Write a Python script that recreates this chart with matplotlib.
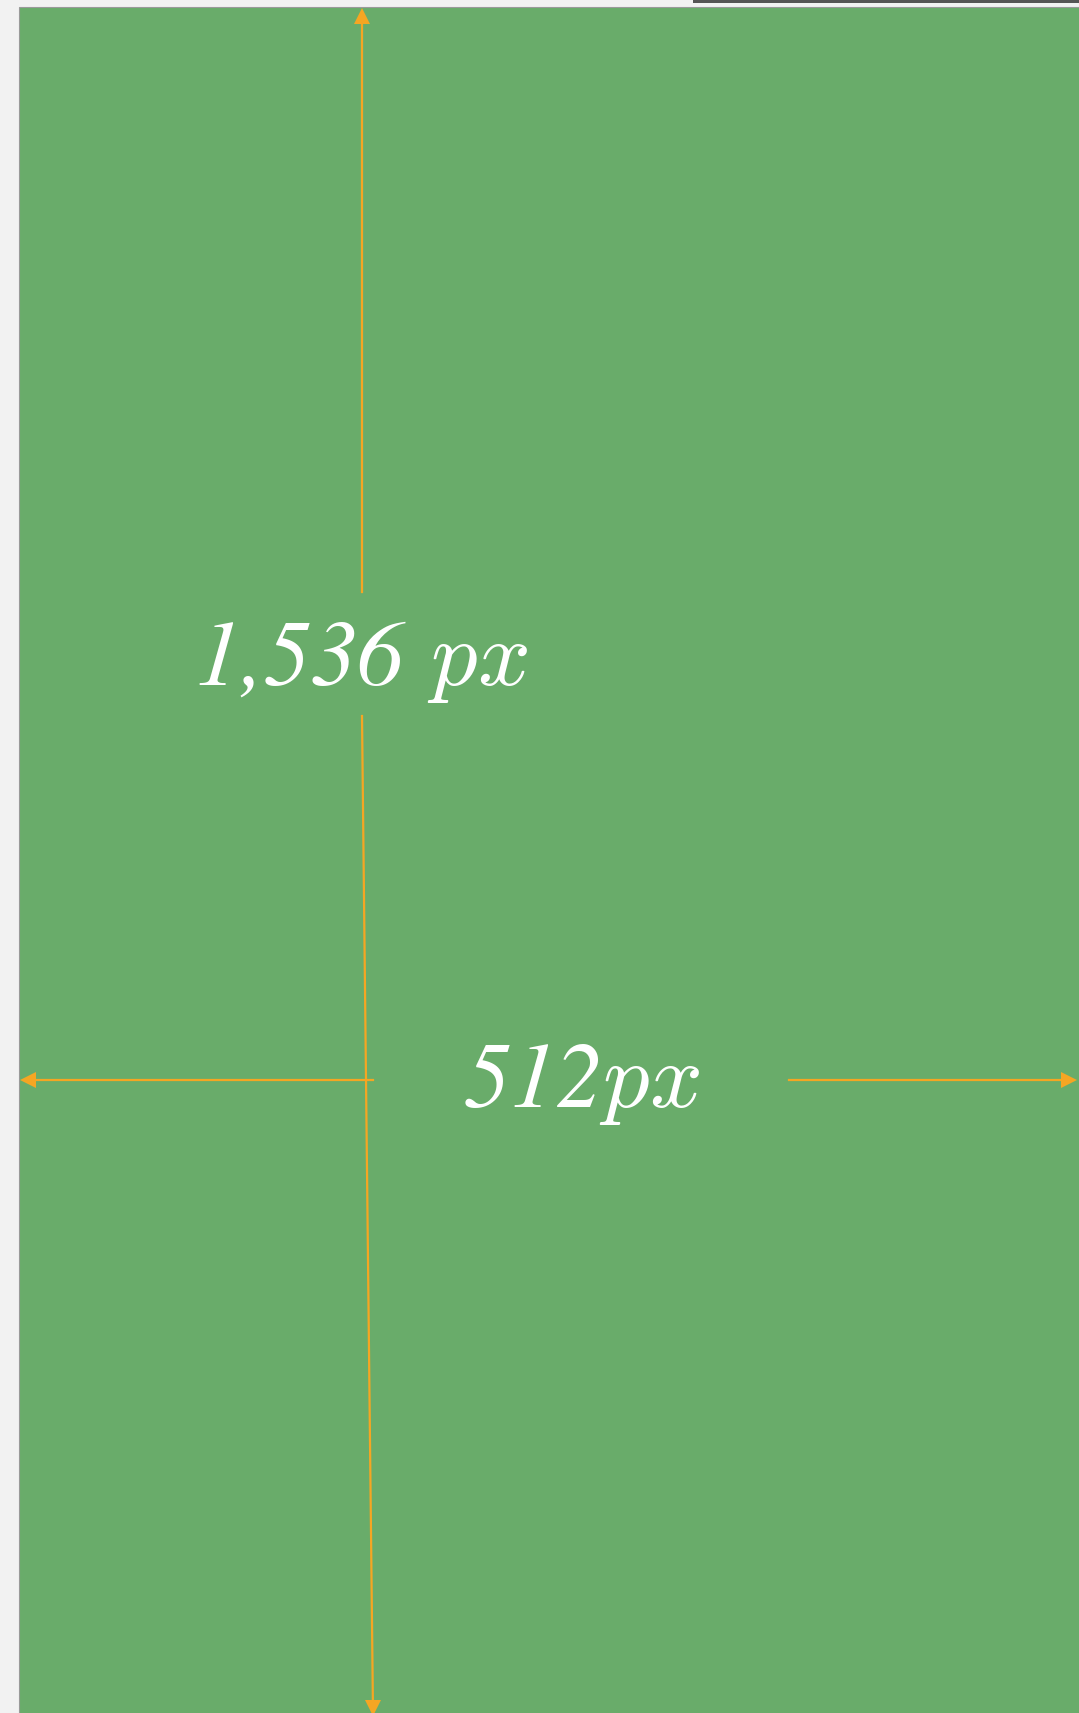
import matplotlib
matplotlib.use("Agg")
import matplotlib.pyplot as plt
from matplotlib.patches import Rectangle, Polygon

plt.rcParams["mathtext.fontset"] = "custom"
plt.rcParams["mathtext.rm"] = "STIXGeneral:italic"
plt.rcParams["mathtext.it"] = "cmmi10"
plt.rcParams["mathtext.fallback"] = "stix"

# Data: labelled dimensions
dim_names = ["height", "width"]
dim_values = [1536, 512]
dim_labels = [r"$1{,}536\ px$", r"$512px$"]

W, H = 1079, 1713
fig = plt.figure(figsize=(W / 100, H / 100), dpi=100)
fig.patch.set_facecolor("#f2f2f2")
ax = fig.add_axes([0, 0, 1, 1])
ax.set_xlim(0, W)
ax.set_ylim(H, 0)
ax.axis("off")

green = "#69ac6a"
orange = "#f5a623"

ax.add_patch(Rectangle((19, 7), W - 19 + 5, H, facecolor=green, edgecolor="#9a9a9a", lw=0.8))
ax.add_patch(Rectangle((693, 0), W - 693, 3, facecolor="#555555", edgecolor="none"))

lw = 1.6

def head(tip, direction, length=16, half=8):
    x, y = tip
    dx, dy = direction
    bx, by = x - dx * length, y - dy * length
    px, py = -dy, dx
    ax.add_patch(Polygon([(x, y), (bx + px * half, by + py * half), (bx - px * half, by - py * half)],
                         closed=True, facecolor=orange, edgecolor="none"))

ax.plot([362, 362], [20, 592], color=orange, lw=lw)
head((362, 8), (0, -1))
ax.plot([362, 373], [716, 1713], color=orange, lw=lw)
head((373, 1716), (0, 1))
ax.text(361, 660, dim_labels[0], ha="center", va="center", color="white", fontsize=67)

ax.plot([32, 373], [1080, 1080], color=orange, lw=lw)
head((20, 1080), (-1, 0))
ax.plot([789, 1065], [1080, 1080], color=orange, lw=lw)
head((1077, 1080), (1, 0))
ax.text(582, 1082, dim_labels[1], ha="center", va="center", color="white", fontsize=67)

fig.savefig("out.png", dpi=100, facecolor=fig.get_facecolor())
